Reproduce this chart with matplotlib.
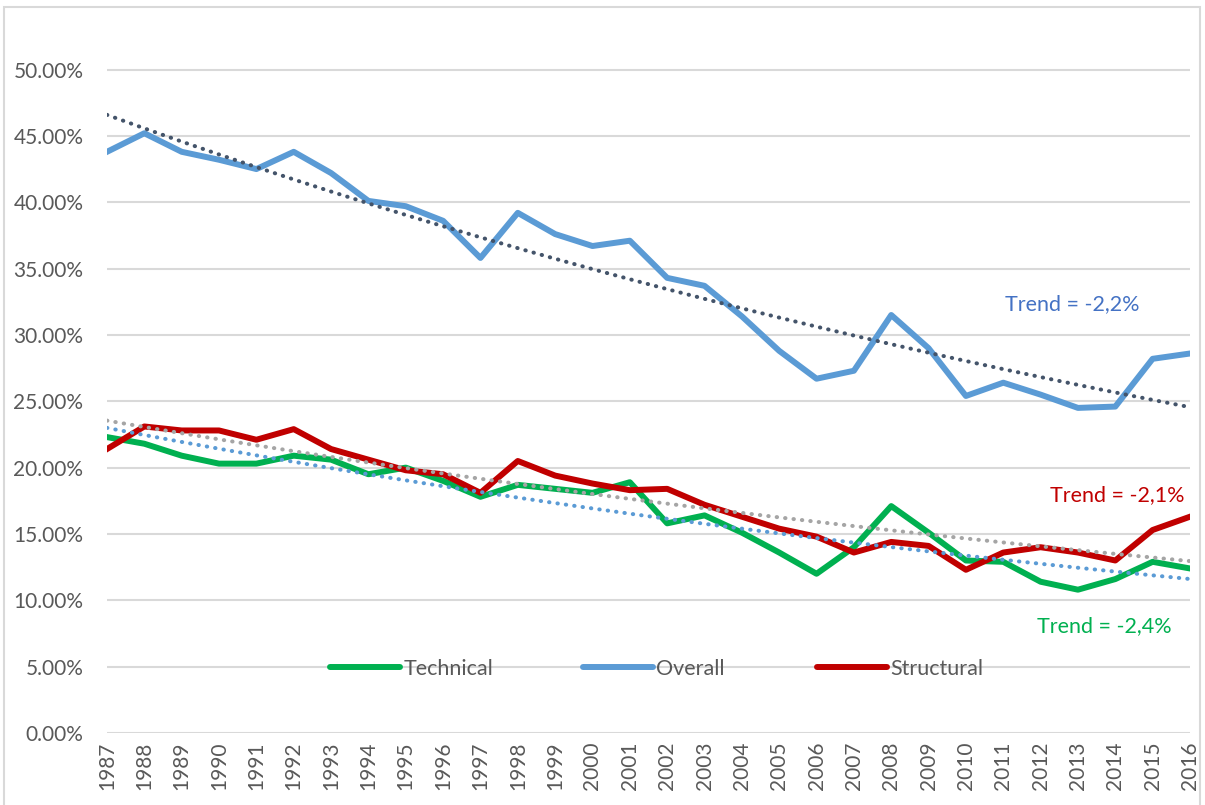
import matplotlib.pyplot as plt
from matplotlib.patches import Rectangle
from matplotlib.ticker import PercentFormatter
import numpy as np

plt.rcParams['font.family'] = ['Lato', 'DejaVu Sans']

years = list(range(1987, 2017))

overall = [43.8, 45.2, 43.8, 43.2, 42.5, 43.8, 42.2, 40.1, 39.7, 38.6,
           35.8, 39.2, 37.6, 36.7, 37.1, 34.3, 33.7, 31.4, 28.8, 26.7,
           27.3, 31.5, 29.0, 25.4, 26.4, 25.5, 24.5, 24.6, 28.2, 28.6]
technical = [22.3, 21.8, 20.9, 20.3, 20.3, 20.9, 20.6, 19.5, 20.0, 19.0,
             17.8, 18.7, 18.4, 18.1, 18.9, 15.8, 16.4, 15.1, 13.6, 12.0,
             14.0, 17.1, 15.1, 13.0, 12.9, 11.4, 10.8, 11.6, 12.9, 12.4]
structural = [21.4, 23.1, 22.8, 22.8, 22.1, 22.9, 21.4, 20.6, 19.8, 19.5,
              18.1, 20.5, 19.4, 18.8, 18.3, 18.4, 17.2, 16.3, 15.4, 14.8,
              13.6, 14.4, 14.1, 12.3, 13.6, 14.0, 13.6, 13.0, 15.3, 16.3]

trend_labels = ["Trend = -2,2%", "Trend = -2,1%", "Trend = -2,4%"]

c_overall = "#5B9BD5"
c_tech = "#00B050"
c_struct = "#C00000"
txt = "#595959"

fig = plt.figure(figsize=(12.05, 8.05), dpi=100)
ax = fig.add_axes([107 / 1205, 1 - 733 / 805, (1190 - 107) / 1205, 690 / 805])

x = np.array(years)
dot = (0, (0.1, 2.0))


def trend(vals, color):
    # exponential trendline: straight fit on the log of the values
    k, b = np.polyfit(x - x[0], np.log(np.array(vals) / 100), 1)
    ax.plot(x, np.exp(b + k * (x - x[0])), color=color, lw=2.9, linestyle=dot,
            dash_capstyle='round', zorder=4)


l_tech, = ax.plot(x, np.array(technical) / 100, color=c_tech, lw=4.3, label="Technical", zorder=3)
l_over, = ax.plot(x, np.array(overall) / 100, color=c_overall, lw=4.3, label="Overall", zorder=3)
l_str, = ax.plot(x, np.array(structural) / 100, color=c_struct, lw=4.3, label="Structural", zorder=3)

trend(overall, "#44546A")
trend(structural, "#A5A5A5")
trend(technical, c_overall)

ax.set_xlim(1987, 2016)
ax.set_ylim(0, 0.52)
ax.set_yticks(np.arange(0, 0.51, 0.05))
ax.yaxis.set_major_formatter(PercentFormatter(1.0, decimals=2))
ax.set_xticks(years)
ax.set_xticklabels([str(y) for y in years], rotation=90)
ax.tick_params(axis='both', length=0, labelsize=15, colors=txt)
ax.tick_params(axis='y', pad=17)
ax.tick_params(axis='x', pad=6)
ax.grid(axis='y', color="#D9D9D9", lw=1.5)
ax.set_axisbelow(True)
for s in ax.spines.values():
    s.set_visible(False)

ax.text(2011.05, 0.319, trend_labels[0], color="#4472C4", fontsize=15.5, ha='left')
ax.text(2012.25, 0.175, trend_labels[1], color=c_struct, fontsize=15.5, ha='left')
ax.text(2011.9, 0.076, trend_labels[2], color=c_tech, fontsize=15.5, ha='left')

# legend entries placed one by one along the 5% gridline
for line, px in [(l_tech, 330), (l_over, 583), (l_str, 817)]:
    leg = fig.legend(handles=[line], loc='center left',
                     bbox_to_anchor=(px / 1205, 1 - 669 / 805),
                     frameon=False, fontsize=15.5, handlelength=3.25,
                     handletextpad=0.15, borderpad=0, borderaxespad=0,
                     labelcolor=txt)
    for h in leg.get_lines():
        h.set_solid_capstyle('round')
        h.set_linewidth(4.3)

fig.patches.append(Rectangle((4 / 1205, -0.01), 1196 / 1205, 1 - 7 / 805 + 0.01,
                             transform=fig.transFigure, fill=False,
                             edgecolor="#D9D9D9", lw=1.5))

fig.savefig("out.png", dpi=100)
